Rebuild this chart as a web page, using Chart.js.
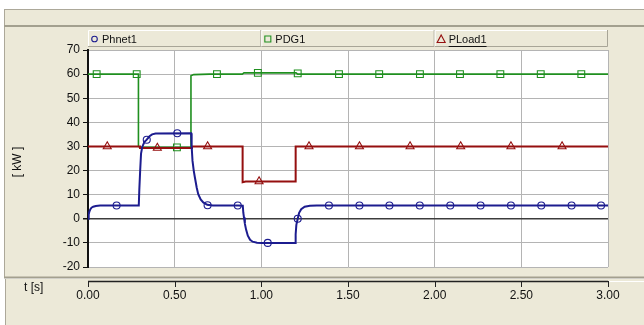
<!DOCTYPE html>
<html>
<head>
<meta charset="utf-8">
<script src="https://cdn.jsdelivr.net/npm/chart.js@4/dist/chart.umd.min.js"></script>
<style>
  html, body { margin: 0; padding: 0; background: #fff; overflow: hidden; }
  canvas { display: block; }
</style>
</head>
<body>
<canvas id="c" width="644" height="325"></canvas>
<script>
// ---- Series data (time in s, power in kW) ----
const phnetT = [0, 0.004, 0.008, 0.013, 0.02, 0.03, 0.045, 0.07, 0.293,
  0.296, 0.301, 0.306, 0.313, 0.325, 0.339, 0.355, 0.37, 0.39, 0.595,
  0.598, 0.603, 0.61, 0.617, 0.627, 0.636, 0.65, 0.665, 0.688, 0.72, 0.866,
  0.893, 0.896, 0.9, 0.905, 0.912, 0.922, 0.935, 0.95, 0.975, 1.0, 1.195,
  1.198, 1.202, 1.21, 1.218, 1.23, 1.25, 1.28, 1.32, 3.0];
const phnetV = [0, 1.8, 3.0, 3.9, 4.6, 5.0, 5.3, 5.5, 5.5,
  12, 20, 27, 29.8, 31.8, 32.8, 34.2, 35.0, 35.4, 35.5,
  30, 24, 20, 17, 13, 10.2, 8, 6.8, 5.8, 5.5, 5.5,
  5.4, 2.5, 0.5, -2, -4.5, -7, -8.7, -9.5, -9.9, -10, -10,
  -6.4, -2.5, 0, 2.5, 4.0, 5.0, 5.4, 5.5, 5.5];

const pdgT = [0, 0.291, 0.291, 0.31, 0.594, 0.594, 0.61, 0.7, 0.89, 0.9, 1.2, 1.21, 3.0];
const pdgV = [60, 60, 30, 29.6, 29.6, 59.3, 59.8, 60, 60, 60.5, 60.5, 60, 60];

const ploadT = [0, 0.3, 0.3, 0.6, 0.6, 0.892, 0.892, 0.91, 1.198, 1.198, 3.0];
const ploadV = [30, 30, 29.4, 29.4, 30, 30, 15.2, 15.5, 15.5, 30, 30];

// Marker samples along each curve
const phnetMarkT = [0.165, 0.339, 0.515, 0.69, 0.864, 1.037, 1.21, 1.39, 1.566, 1.739, 1.914, 2.09, 2.265, 2.44, 2.615, 2.79, 2.96];
const phnetMarkV = [5.5, 32.8, 35.5, 5.6, 5.5, -10, 0, 5.5, 5.5, 5.5, 5.5, 5.5, 5.5, 5.5, 5.5, 5.5, 5.5];
const pdgMarkT = [0.05, 0.281, 0.513, 0.744, 0.98, 1.21, 1.448, 1.68, 1.915, 2.146, 2.379, 2.612, 2.846];
const pdgMarkV = [60, 60, 29.6, 60, 60.5, 60.3, 60, 60, 60, 60, 60, 60, 60];
const ploadMarkT = [0.111, 0.40, 0.69, 0.987, 1.275, 1.566, 1.858, 2.15, 2.44, 2.735];
const ploadMarkV = [30, 29.4, 30, 15.5, 30, 30, 30, 30, 30, 30];

const seriesNames = ['Phnet1', 'PDG1', 'PLoad1'];
const xAxisTitle = 't [s]';
const yAxisTitle = '[ kW ]';

// ---- Styling ----
const NAVY = '#1c1c8f';
const GREEN = '#1f8f1f';
const RED = '#950f0f';
const BEIGE = '#ECE9D8';
const EDGE = '#ACA899';
const FONT = "'Liberation Sans', Arial, sans-serif";
const colors = [NAVY, GREEN, RED];
const styles = ['circle', 'rect', 'triangle'];

const xy = (T, V) => T.map((t, i) => ({ x: t, y: V[i] }));

// Window-like panels behind the plot
const panelPlugin = {
  id: 'panels',
  beforeDraw(chart) {
    const ctx = chart.ctx, W = chart.width, H = chart.height, a = chart.chartArea;
    ctx.save();
    ctx.fillStyle = '#fff';
    ctx.fillRect(0, 0, W, H);
    // top strip
    ctx.fillStyle = BEIGE;
    ctx.fillRect(4, 9, W - 4, 17);
    ctx.strokeStyle = EDGE; ctx.lineWidth = 1;
    ctx.beginPath(); ctx.moveTo(4, 9.5); ctx.lineTo(W, 9.5); ctx.stroke();
    ctx.beginPath(); ctx.moveTo(4.5, 9); ctx.lineTo(4.5, 26); ctx.stroke();
    ctx.strokeStyle = '#a3a08f'; ctx.lineWidth = 2;
    ctx.beginPath(); ctx.moveTo(4, 26); ctx.lineTo(W, 26); ctx.stroke();
    // main panel
    ctx.fillStyle = BEIGE;
    ctx.fillRect(4, 27, W - 4, 250);
    ctx.strokeStyle = EDGE; ctx.lineWidth = 1;
    ctx.beginPath(); ctx.moveTo(4.5, 27); ctx.lineTo(4.5, 277); ctx.stroke();
    ctx.strokeStyle = '#a3a08f'; ctx.lineWidth = 2;
    ctx.beginPath(); ctx.moveTo(4, 277.5); ctx.lineTo(W, 277.5); ctx.stroke();
    // bottom panel
    ctx.fillStyle = BEIGE;
    ctx.fillRect(5, 279, W - 5, H - 279);
    ctx.strokeStyle = EDGE; ctx.lineWidth = 1;
    ctx.beginPath(); ctx.moveTo(5.5, 279); ctx.lineTo(5.5, H); ctx.stroke();
    ctx.strokeStyle = '#fff';
    ctx.beginPath(); ctx.moveTo(a.right, 281.5); ctx.lineTo(W, 281.5); ctx.stroke();
    // plot background
    ctx.fillStyle = '#fff';
    ctx.fillRect(a.left, a.top, a.right - a.left, a.bottom - a.top);
    ctx.restore();
  },
  afterDraw(chart) {
    const ctx = chart.ctx, a = chart.chartArea, xs = chart.scales.x;
    ctx.save();
    // legend strip made of three raised buttons
    const bw = (a.right - a.left) / seriesNames.length;
    const top = 30, bh = 17;
    seriesNames.forEach((name, i) => {
      const x0 = a.left + i * bw;
      ctx.fillStyle = BEIGE;
      ctx.fillRect(x0, top, bw, bh);
      ctx.lineWidth = 1;
      ctx.strokeStyle = '#fff';
      ctx.beginPath(); ctx.moveTo(x0 + 0.5, top + bh); ctx.lineTo(x0 + 0.5, top + 0.5); ctx.lineTo(x0 + bw, top + 0.5); ctx.stroke();
      ctx.strokeStyle = '#a8a597';
      ctx.beginPath(); ctx.moveTo(x0, top + bh - 0.5); ctx.lineTo(x0 + bw - 0.5, top + bh - 0.5); ctx.lineTo(x0 + bw - 0.5, top); ctx.stroke();
      const cx = x0 + 6.5, cy = top + 9;
      ctx.strokeStyle = colors[i]; ctx.lineWidth = 1.1;
      ctx.beginPath();
      if (styles[i] === 'circle') ctx.arc(cx, cy, 2.8, 0, Math.PI * 2);
      else if (styles[i] === 'rect') ctx.rect(cx - 3, cy - 3, 6, 6);
      else { ctx.moveTo(cx, cy - 4); ctx.lineTo(cx + 4, cy + 3.5); ctx.lineTo(cx - 4, cy + 3.5); ctx.closePath(); }
      ctx.stroke();
      ctx.fillStyle = '#111';
      ctx.font = '11px ' + FONT;
      ctx.textBaseline = 'middle'; ctx.textAlign = 'left';
      ctx.fillText(name, x0 + 14, cy + 0.5);
      if (i === seriesNames.length - 1) {
        const tw = ctx.measureText(name).width;
        ctx.strokeStyle = '#111'; ctx.lineWidth = 1;
        ctx.beginPath(); ctx.moveTo(x0 + 14, top + bh - 0.5); ctx.lineTo(x0 + 14 + tw, top + bh - 0.5); ctx.stroke();
      }
    });
    // time axis line and ticks in the lower panel
    ctx.strokeStyle = '#222'; ctx.lineWidth = 1.5;
    ctx.beginPath(); ctx.moveTo(a.left, 281.5); ctx.lineTo(a.right, 281.5); ctx.stroke();
    ctx.lineWidth = 1;
    xs.ticks.forEach(t => {
      const px = Math.round(xs.getPixelForValue(t.value)) + 0.5;
      ctx.beginPath(); ctx.moveTo(px, 281); ctx.lineTo(px, 287); ctx.stroke();
    });
    // axis titles
    ctx.fillStyle = '#111';
    ctx.font = '12px ' + FONT;
    ctx.textAlign = 'left'; ctx.textBaseline = 'middle';
    ctx.fillText(xAxisTitle, 24, 288);
    ctx.translate(18, 162);
    ctx.rotate(-Math.PI / 2);
    ctx.textAlign = 'center';
    ctx.fillText(yAxisTitle, 0, 0);
    ctx.restore();
  }
};

const lineDs = (i, T, V, w) => ({
  label: seriesNames[i], data: xy(T, V), borderColor: colors[i], borderWidth: w,
  pointRadius: 0, tension: 0, fill: false
});
const markDs = (i, T, V, r) => ({
  label: seriesNames[i] + ' marks', data: xy(T, V), showLine: false,
  pointStyle: styles[i], pointRadius: r, pointHoverRadius: r,
  pointBorderColor: colors[i], pointBackgroundColor: 'rgba(255,255,255,0)', pointBorderWidth: 1.1
});

new Chart(document.getElementById('c'), {
  type: 'line',
  data: {
    datasets: [
      markDs(0, phnetMarkT, phnetMarkV, 3.5),
      lineDs(0, phnetT, phnetV, 2),
      markDs(2, ploadMarkT, ploadMarkV, 4.6),
      lineDs(2, ploadT, ploadV, 2),
      markDs(1, pdgMarkT, pdgMarkV, 4.8),
      lineDs(1, pdgT, pdgV, 1.6)
    ]
  },
  options: {
    responsive: false,
    devicePixelRatio: 1,
    animation: false,
    events: [],
    layout: { padding: { top: 50, right: 36, left: 0, bottom: 0 } },
    plugins: { legend: { display: false }, tooltip: { enabled: false } },
    scales: {
      x: {
        type: 'linear', min: 0, max: 3,
        afterFit: s => { s.height = 58; },
        ticks: { stepSize: 0.5, padding: 21, color: '#111', font: { family: FONT, size: 12 },
                 callback: v => Number(v).toFixed(2), maxRotation: 0 },
        grid: { color: '#b4b4b4', lineWidth: 1, drawTicks: false },
        border: { display: false }
      },
      y: {
        min: -20, max: 70,
        afterFit: s => { s.width = 88; },
        ticks: { stepSize: 10, padding: 3, color: '#111', font: { family: FONT, size: 12 } },
        grid: {
          color: c => (c.tick && c.tick.value === 0) ? '#3c3c3c' : '#b4b4b4',
          lineWidth: c => (c.tick && c.tick.value === 0) ? 1.5 : 1,
          tickColor: '#111', tickLength: 5
        },
        border: { display: true, color: '#111', width: 2 }
      }
    }
  },
  plugins: [panelPlugin]
});
</script>
</body>
</html>
